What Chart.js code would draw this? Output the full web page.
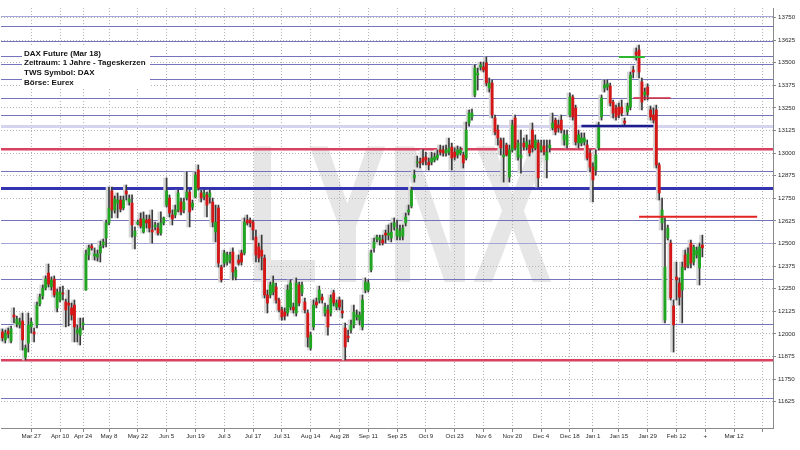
<!DOCTYPE html>
<html lang="de">
<head>
  <meta charset="UTF-8">
  <title>DAX Future (Mar 18)</title>
  <script src="https://cdn.jsdelivr.net/npm/chart.js"></script>
  <style>
    html, body { margin: 0; padding: 0; background: #ffffff; }
    #wrap { width: 800px; height: 450px; }
  </style>
</head>
<body>
<div id="wrap"><canvas id="daxChart" width="800" height="450"></canvas></div>
<script>
// trading calendar (Eurex), first and last day of the x axis
const firstDay = '2017-03-13';
const lastDay = '2018-03-29';
const holidays = ['2017-04-14', '2017-04-17', '2017-05-01', '2017-12-25', '2017-12-26', '2018-01-01', '2018-03-30'];

// x axis ticks (every second Monday) and their texts
const tickDates = ['2017-03-27', '2017-04-10', '2017-04-24', '2017-05-08', '2017-05-22', '2017-06-05', '2017-06-19',
  '2017-07-03', '2017-07-17', '2017-07-31', '2017-08-14', '2017-08-28', '2017-09-11', '2017-09-25', '2017-10-09',
  '2017-10-23', '2017-11-06', '2017-11-20', '2017-12-04', '2017-12-18', '2018-01-02', '2018-01-15', '2018-01-29',
  '2018-02-12', '2018-02-26', '2018-03-12', '2018-03-26'];
const tickTexts = ['Mar 27', 'Apr 10', 'Apr 24', 'May 8', 'May 22', 'Jun 5', 'Jun 19', 'Jul 3', 'Jul 17', 'Jul 31',
  'Aug 14', 'Aug 28', 'Sep 11', 'Sep 25', 'Oct 9', 'Oct 23', 'Nov 6', 'Nov 20', 'Dec 4', 'Dec 18', 'Jan 1',
  'Jan 15', 'Jan 29', 'Feb 12', '+', 'Mar 12', ''];

// price axis
const yMin = 11479;
const yMax = 13802;
const yTicks = [11625, 11750, 11875, 12000, 12125, 12250, 12375, 12500, 12625, 12750, 12875, 13000, 13125,
  13250, 13375, 13500, 13625, 13750];

// daily candles, one per trading day from the first day on
const open = [
  12010, 11966, 12015, 11960, 12104, 12054, 12049, 12071, 11871, 11949,
  12038, 12010, 12049, 12165, 12209, 12253, 12336, 12259, 12303, 12143,
  12187, 12226, 12176, 12170, 12143, 12159, 12004, 11993, 12049, 12242,
  12436, 12486, 12430, 12425, 12447, 12491, 12530, 12613, 12790, 12685,
  12723, 12740, 12696, 12790, 12729, 12723, 12541, 12607, 12635, 12563,
  12629, 12635, 12574, 12591, 12585, 12557, 12613, 12712, 12751, 12657,
  12657, 12685, 12729, 12685, 12751, 12784, 12701, 12757, 12906, 12779,
  12757, 12768, 12757, 12729, 12563, 12696, 12369, 12391, 12397, 12408,
  12452, 12314, 12408, 12447, 12447, 12629, 12629, 12618, 12535, 12480,
  12463, 12419, 12215, 12215, 12231, 12259, 12187, 12132, 12121, 12115,
  12148, 12148, 12115, 12270, 12226, 12176, 12115, 11921, 12038, 12176,
  12187, 12203, 12115, 12132, 12115, 12226, 12148, 12187, 12126, 12032,
  11988, 12021, 12049, 12093, 12076, 12038, 12242, 12242, 12353, 12475,
  12524, 12519, 12519, 12557, 12546, 12530, 12591, 12541, 12535, 12541,
  12613, 12674, 12707, 12862, 12945, 12950, 12972, 12978, 12950, 12950,
  12961, 12972, 13017, 13017, 13000, 13005, 13033, 13005, 12989, 13000,
  12989, 12972, 13166, 13199, 13321, 13431, 13476, 13476, 13498, 13359,
  13387, 13194, 13127, 13072, 12978, 13044, 12867, 13017, 13194, 12978,
  12972, 13055, 13033, 13044, 13127, 13028, 13055, 13017, 13039, 12961,
  13028, 13138, 13182, 13155, 13182, 13072, 13044, 13210, 13310, 13249,
  13055, 13055, 13061, 13044, 13000, 12922, 12906, 13028, 13199, 13359,
  13365, 13371, 13282, 13249, 13254, 13254, 13177, 13227, 13254, 13459,
  13558, 13570, 13393, 13321, 13365, 13238, 13210, 13238, 12934, 12613,
  12076, 12530, 12502, 12154, 12314, 12281, 12242, 12436, 12380, 12502,
  12397, 12436, 12364, 12491
];
const high = [
  12027, 12021, 12032, 12043, 12143, 12098, 12087, 12115, 11938, 12115,
  12087, 12032, 12176, 12220, 12270, 12320, 12386, 12314, 12320, 12248,
  12259, 12264, 12192, 12242, 12170, 12187, 12049, 12087, 12087, 12463,
  12491, 12497, 12475, 12463, 12513, 12524, 12629, 12812, 12812, 12762,
  12779, 12762, 12762, 12823, 12768, 12768, 12591, 12629, 12668, 12674,
  12657, 12657, 12685, 12618, 12613, 12674, 12646, 12862, 12768, 12685,
  12712, 12795, 12751, 12751, 12895, 12795, 12740, 12895, 12934, 12795,
  12795, 12784, 12795, 12751, 12712, 12712, 12380, 12463, 12452, 12452,
  12475, 12369, 12436, 12463, 12641, 12657, 12641, 12629, 12574, 12502,
  12546, 12436, 12242, 12286, 12320, 12281, 12198, 12148, 12143, 12270,
  12298, 12170, 12309, 12286, 12286, 12198, 12132, 12010, 12187, 12198,
  12264, 12220, 12170, 12159, 12215, 12242, 12187, 12203, 12187, 12060,
  12021, 12076, 12159, 12132, 12121, 12215, 12309, 12298, 12463, 12530,
  12546, 12546, 12546, 12574, 12602, 12613, 12641, 12629, 12602, 12602,
  12668, 12712, 12812, 12906, 12983, 12972, 13017, 13005, 12972, 13005,
  13000, 13017, 13044, 13039, 13044, 13083, 13055, 13028, 13039, 13033,
  13005, 13171, 13238, 13243, 13487, 13470, 13503, 13503, 13531, 13415,
  13404, 13210, 13155, 13083, 13083, 13055, 13044, 13182, 13210, 13072,
  13127, 13083, 13100, 13072, 13166, 13100, 13072, 13072, 13072, 13072,
  13072, 13221, 13194, 13182, 13210, 13127, 13127, 13332, 13321, 13265,
  13127, 13111, 13111, 13072, 13017, 12945, 13017, 13171, 13321, 13404,
  13404, 13387, 13293, 13265, 13276, 13293, 13194, 13276, 13448, 13481,
  13581, 13597, 13415, 13359, 13382, 13260, 13249, 13265, 12945, 12751,
  12641, 12602, 12519, 12187, 12397, 12309, 12397, 12463, 12475, 12519,
  12491, 12480, 12502, 12546
];
const low = [
  11960, 11949, 11977, 11949, 12060, 12038, 12032, 11910, 11855, 11899,
  12004, 11955, 12032, 12154, 12192, 12242, 12259, 12242, 12203, 12121,
  12176, 12187, 12038, 12043, 12076, 11955, 11955, 11938, 12021, 12242,
  12408, 12463, 12408, 12403, 12397, 12475, 12480, 12602, 12641, 12668,
  12641, 12674, 12685, 12740, 12712, 12535, 12469, 12602, 12585, 12557,
  12585, 12563, 12502, 12574, 12546, 12546, 12602, 12701, 12646, 12602,
  12641, 12674, 12657, 12668, 12740, 12591, 12685, 12751, 12795, 12729,
  12740, 12646, 12723, 12591, 12508, 12369, 12286, 12369, 12380, 12391,
  12298, 12298, 12380, 12380, 12436, 12602, 12591, 12519, 12397, 12397,
  12353, 12198, 12115, 12198, 12215, 12170, 12121, 12076, 12076, 12098,
  12132, 12115, 12098, 12154, 12209, 12115, 11927, 11910, 12021, 12143,
  12170, 12170, 12098, 11993, 12098, 12154, 12132, 12132, 12087, 11855,
  11955, 12004, 12032, 12076, 12049, 12021, 12226, 12231, 12342, 12452,
  12508, 12491, 12491, 12502, 12519, 12508, 12574, 12519, 12519, 12519,
  12596, 12657, 12696, 12839, 12922, 12917, 12934, 12934, 12906, 12934,
  12950, 12961, 12989, 12983, 12983, 12989, 12906, 12961, 12972, 12989,
  12917, 12961, 13149, 13182, 13310, 13348, 13459, 13448, 13371, 13337,
  13194, 13100, 13044, 12989, 12839, 12983, 12839, 13005, 13017, 12961,
  12889, 13017, 13017, 12983, 13005, 13017, 12812, 13005, 12989, 12862,
  13005, 13127, 13100, 13116, 13111, 13044, 13028, 13199, 13182, 13044,
  13028, 13039, 13044, 12961, 12895, 12729, 12878, 13017, 13182, 13337,
  13348, 13260, 13194, 13182, 13194, 13205, 13149, 13210, 13238, 13415,
  13514, 13415, 13238, 13293, 13293, 13182, 13166, 12917, 12740, 12574,
  12060, 12519, 12187, 11899, 12187, 12159, 12060, 12353, 12364, 12364,
  12380, 12419, 12270, 12425
];
const close = [
  11977, 12004, 11999, 12027, 12093, 12082, 12065, 11966, 11921, 12049,
  12065, 11999, 12159, 12203, 12253, 12303, 12275, 12298, 12215, 12231,
  12231, 12220, 12132, 12159, 12104, 12038, 12021, 12032, 12060, 12441,
  12475, 12475, 12441, 12441, 12486, 12508, 12613, 12696, 12685, 12746,
  12740, 12690, 12740, 12773, 12746, 12602, 12568, 12618, 12596, 12635,
  12613, 12585, 12563, 12602, 12557, 12613, 12641, 12790, 12668, 12635,
  12685, 12779, 12674, 12729, 12784, 12674, 12723, 12878, 12806, 12751,
  12779, 12712, 12779, 12618, 12618, 12391, 12298, 12447, 12436, 12436,
  12342, 12353, 12391, 12397, 12618, 12613, 12613, 12574, 12436, 12419,
  12430, 12215, 12170, 12270, 12281, 12187, 12132, 12093, 12098, 12242,
  12281, 12132, 12281, 12170, 12270, 12132, 11982, 11993, 12159, 12159,
  12242, 12187, 12148, 12038, 12198, 12170, 12170, 12148, 12115, 11927,
  11977, 12049, 12121, 12104, 12104, 12187, 12286, 12281, 12447, 12508,
  12535, 12530, 12502, 12546, 12557, 12563, 12613, 12580, 12568, 12585,
  12646, 12685, 12795, 12878, 12950, 12945, 12950, 12961, 12934, 12972,
  12978, 12989, 13005, 13000, 13017, 13028, 12972, 12978, 13017, 13017,
  12945, 13127, 13221, 13221, 13470, 13442, 13487, 13459, 13387, 13387,
  13210, 13116, 13083, 13028, 12989, 12989, 13017, 13155, 13028, 13055,
  12989, 13033, 13061, 13000, 13028, 13072, 12862, 13039, 13005, 13005,
  13044, 13166, 13116, 13138, 13127, 13100, 13100, 13310, 13199, 13061,
  13100, 13083, 13083, 12972, 12922, 12851, 12989, 13155, 13304, 13376,
  13382, 13276, 13221, 13199, 13210, 13221, 13166, 13260, 13431, 13448,
  13542, 13448, 13282, 13337, 13321, 13199, 13182, 12934, 12779, 12685,
  12369, 12585, 12198, 12049, 12298, 12203, 12369, 12369, 12447, 12391,
  12480, 12463, 12480, 12475
];

// horizontal support / resistance levels
const blueLevels = [13702, 13614, 13531, 13487, 13404, 13304, 13205, 12895, 12625, 12298, 12049, 11640];
const lightLevels = [13755, 12502];
const paleLevels = [13149];
const navyLevels = [12801];
const redLevels = [13022, 11855];

// short trend segments: start date, end date, level
const greenSegment = { from: '2018-01-15', to: '2018-01-26', level: 13531 };
const redShortSegment = { from: '2018-01-22', to: '2018-02-08', level: 13304 };
const navySegment = { from: '2017-12-22', to: '2018-01-31', level: 13149 };
const redLongSegment = { from: '2018-01-24', to: '2018-03-22', level: 12648 };

const infoLines = ['DAX Future (Mar 18)', 'Zeitraum: 1 Jahre - Tageskerzen', 'TWS Symbol: DAX', 'Börse: Eurex'];

function tradingDays(from, to) {
  const days = [];
  const d = new Date(from + 'T00:00:00Z');
  const end = new Date(to + 'T00:00:00Z');
  while (d <= end) {
    const iso = d.toISOString().slice(0, 10);
    const wd = d.getUTCDay();
    if (wd !== 0 && wd !== 6 && !holidays.includes(iso)) days.push(iso);
    d.setUTCDate(d.getUTCDate() + 1);
  }
  return days;
}

const labels = tradingDays(firstDay, lastDay);
const tickIndex = tickDates.map(d => labels.indexOf(d));

const upColor = '#1fa51f';
const downColor = '#d41616';
const bodyColors = open.map((o, i) => close[i] >= o ? upColor : downColor);

function segment(s, color, width) {
  return {
    type: 'line',
    data: [{ x: s.from, y: s.level }, { x: s.to, y: s.level }],
    borderColor: color,
    borderWidth: width,
    pointRadius: 0,
    order: 0
  };
}

const decorPlugin = {
  id: 'decor',
  beforeDraw(chart) {
    const ctx = chart.ctx;
    ctx.save();
    ctx.fillStyle = '#ffffff';
    ctx.fillRect(0, 0, chart.width, chart.height);
    // LYNX watermark
    ctx.fillStyle = '#e6e6e6';
    ctx.font = 'bold 196px "Liberation Sans", Arial, sans-serif';
    ctx.textBaseline = 'alphabetic';
    const w = ctx.measureText('LYNX').width;
    ctx.translate(246, 282);
    ctx.scale(306 / w, 1);
    ctx.fillText('LYNX', 0, 0);
    ctx.restore();
  },
  beforeDatasetsDraw(chart) {
    const { ctx, chartArea: a, scales: { y } } = chart;
    const drawLevels = (vals, color, width) => {
      vals.forEach(v => {
        // same pixel snapping as the grid lines
        const py = Math.round(y.getPixelForValue(v) - width / 2) + width / 2;
        ctx.beginPath();
        ctx.moveTo(a.left, py);
        ctx.lineTo(a.right, py);
        ctx.strokeStyle = color;
        ctx.lineWidth = width;
        ctx.stroke();
      });
    };
    ctx.save();
    drawLevels(paleLevels, '#d4d4ee', 3);
    drawLevels(lightLevels, '#a4a4d6', 1);
    drawLevels(blueLevels, '#7474bc', 1);
    drawLevels(navyLevels, '#3434b0', 3);
    drawLevels(redLevels, '#d8415f', 2.5);
    ctx.restore();
  },
  beforeDatasetDraw(chart, args) {
    if (chart.data.datasets[args.index].shade) {
      chart.ctx.save();
      chart.ctx.translate(-2, 0);
    }
  },
  afterDatasetDraw(chart, args) {
    if (chart.data.datasets[args.index].shade) chart.ctx.restore();
  },
  afterDraw(chart) {
    const ctx = chart.ctx;
    ctx.save();
    ctx.fillStyle = '#ffffff';
    ctx.fillRect(22, 47, 128, 41);
    ctx.fillStyle = '#111111';
    ctx.font = 'bold 8px "Liberation Sans", Arial, sans-serif';
    ctx.textBaseline = 'middle';
    infoLines.forEach((t, k) => ctx.fillText(t, 24, 53.5 + k * 9.65));
    ctx.restore();
  }
};

new Chart(document.getElementById('daxChart'), {
  type: 'bar',
  data: {
    labels: labels,
    datasets: [
      segment(greenSegment, '#2fb52f', 2),
      segment(redShortSegment, '#d22a3c', 1.5),
      segment(navySegment, '#1c1c8a', 2.5),
      segment(redLongSegment, '#e32222', 2),
      {
        label: 'body',
        data: open.map((o, i) => [o, close[i]]),
        backgroundColor: bodyColors,
        barThickness: 2.2,
        minBarLength: 1,
        grouped: false,
        order: 1
      },
      {
        label: 'wick',
        data: low.map((l, i) => [l, high[i]]),
        backgroundColor: '#3a3a3a',
        barThickness: 1,
        grouped: false,
        order: 2
      },
      {
        label: 'shade',
        shade: true,
        data: low.map((l, i) => [l, high[i]]),
        backgroundColor: '#d6d6d6',
        barThickness: 2,
        grouped: false,
        order: 3
      }
    ]
  },
  options: {
    responsive: false,
    animation: false,
    events: [],
    layout: { padding: { top: 8, left: 1, right: 0, bottom: 0 } },
    plugins: { legend: { display: false }, tooltip: { enabled: false } },
    scales: {
      x: {
        type: 'category',
        offset: true,
        afterBuildTicks: s => { s.ticks = tickIndex.map(i => ({ value: i })); },
        afterFit: s => { s.height = 22; },
        ticks: {
          autoSkip: false,
          maxRotation: 0,
          padding: 1,
          color: '#2a2a2a',
          font: { family: '"Liberation Sans", Arial, sans-serif', size: 6.2 },
          callback: (v, k) => tickTexts[k]
        },
        grid: { offset: false, color: '#b4b4b4', tickLength: 4, tickColor: '#888888' },
        border: { color: '#8a8a8a', dash: [1, 2] }
      },
      y: {
        position: 'right',
        min: yMin,
        max: yMax,
        afterBuildTicks: s => { s.ticks = yTicks.map(v => ({ value: v })); },
        afterFit: s => { s.width = 27; },
        ticks: {
          padding: 2,
          color: '#2a2a2a',
          font: { family: '"Liberation Sans", Arial, sans-serif', size: 6.2 },
          callback: v => String(v)
        },
        grid: { color: '#b4b4b4', tickLength: 3, tickColor: '#888888' },
        border: { color: '#8a8a8a', dash: [1, 2] }
      }
    }
  },
  plugins: [decorPlugin]
});
</script>
</body>
</html>
